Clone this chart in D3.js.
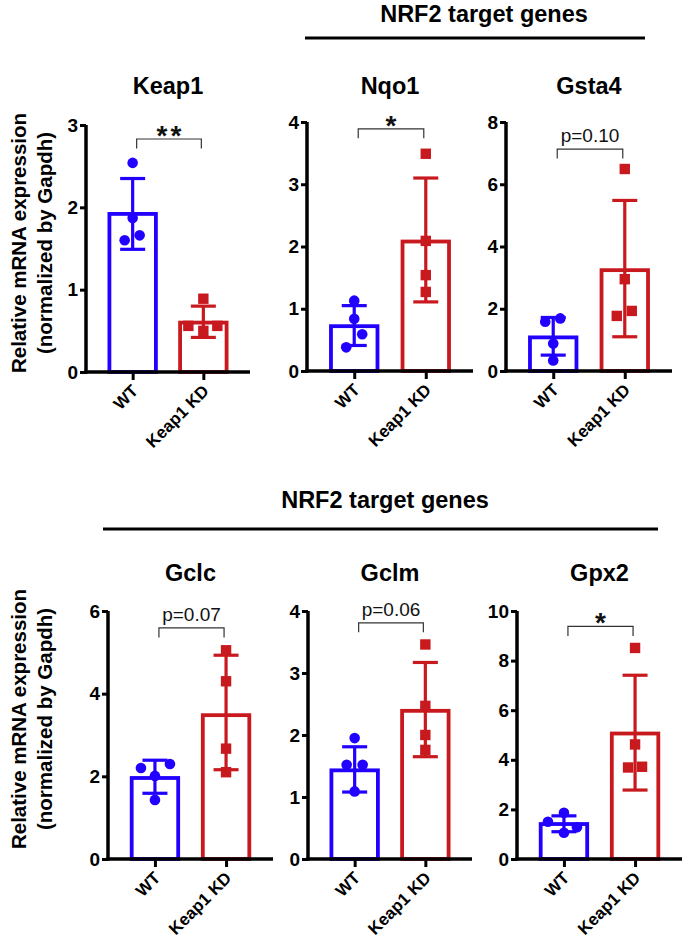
<!DOCTYPE html>
<html>
<head>
<meta charset="utf-8">
<script src="https://cdn.jsdelivr.net/npm/d3@7"></script>
<style>
  html, body { margin: 0; padding: 0; background: #fff; }
  svg { display: block; }
  text { font-family: "Liberation Sans", Arial, Helvetica, sans-serif; }
</style>
</head>
<body>
<svg id="chart" width="688" height="946"></svg>
<script>
// ---------------- DATA ----------------
const genes = ["Keap1", "Nqo1", "Gsta4", "Gclc", "Gclm", "Gpx2"];
const groups = ["WT", "Keap1 KD"];
const yMaxes = [3, 4, 8, 6, 4, 10];
const yTickSteps = [1, 1, 2, 2, 1, 2];

const wtMeans  = [1.92, 0.72, 1.08, 1.96, 1.43, 1.41];
const wtErrHi  = [2.35, 1.05, 1.72, 2.39, 1.81, 1.74];
const wtErrLo  = [1.49, 0.41, 0.51, 1.59, 1.08, 1.10];
const wtPoints = [
  [2.54, 1.87, 1.66, 1.60],
  [1.13, 0.84, 0.59, 0.38],
  [1.58, 1.69, 0.88, 0.34],
  [2.20, 2.30, 2.01, 1.43],
  [1.95, 1.52, 1.52, 1.09],
  [1.50, 1.86, 1.06, 1.28]
];

const kdMeans  = [0.60, 2.08, 3.24, 3.48, 2.39, 5.06];
const kdErrHi  = [0.80, 3.10, 5.48, 4.93, 3.17, 7.41];
const kdErrLo  = [0.42, 1.11, 1.10, 2.16, 1.65, 2.78];
const kdPoints = [
  [0.89, 0.56, 0.50, 0.56],
  [3.49, 2.09, 1.54, 1.27],
  [6.49, 2.95, 1.77, 1.93],
  [5.05, 4.30, 2.67, 2.10],
  [3.46, 2.47, 2.00, 1.76],
  [8.51, 4.62, 3.69, 3.72]
];

const sigLabels = ["**", "*", "p=0.10", "p=0.07", "p=0.06", "*"];
const bracketLevels = [2.83, 3.89, 7.13, 5.59, 3.81, 9.38];

const headerText = "NRF2 target genes";
const yLabelLines = ["Relative mRNA expression", "(normalized by Gapdh)"];

// ---------------- LAYOUT (pixels, styling) ----------------
const layout = [
  { ax: 86,  ae: 250, y0: 372, y1: 125, row: 0 },
  { ax: 307, ae: 473, y0: 371, y1: 122, row: 0 },
  { ax: 506, ae: 672, y0: 371, y1: 122, row: 0 },
  { ax: 108, ae: 273, y0: 859, y1: 611, row: 1 },
  { ax: 308, ae: 472, y0: 859, y1: 611, row: 1 },
  { ax: 517, ae: 682, y0: 859, y1: 611, row: 1 }
];
// horizontal jitter of the dots (px) — purely visual placement
const wtJitter = [[0,0,7,-8],[0,0,8,-8],[-8,7,0,0],[-14,15,0,0],[0,-8,8,0],[-16,0,0,13]];
const kdJitter = [[0,-15,0,14],[0,0,0,0],[0,0,-8,7],[0,0,0,0],[0,0,0,0],[0,0,-7,7]];

const BLUE = "#2200ff";
const RED = "#c8191e";
const colors = [BLUE, RED];
const FONT = "Liberation Sans, Arial, Helvetica, sans-serif";

const svg = d3.select("#chart");

// ---------------- HEADERS ----------------
const headers = [
  { cx: 484, ty: 22, x1: 305, x2: 645, ly: 38 },
  { cx: 385, ty: 508, x1: 103, x2: 658, ly: 529 }
];
headers.forEach(h => {
  svg.append("text").attr("x", h.cx).attr("y", h.ty)
    .attr("text-anchor", "middle").attr("font-weight", "bold")
    .attr("font-size", 23.5).attr("fill", "#000").text(headerText);
  svg.append("line").attr("x1", h.x1).attr("x2", h.x2)
    .attr("y1", h.ly).attr("y2", h.ly)
    .attr("stroke", "#000").attr("stroke-width", 3.2);
});

// ---------------- Y LABELS ----------------
[243, 719].forEach(cy => {
  yLabelLines.forEach((line, i) => {
    svg.append("text")
      .attr("transform", `translate(${25.5 + i * 26},${cy}) rotate(-90)`)
      .attr("text-anchor", "middle").attr("font-weight", "bold")
      .attr("font-size", 20.5).attr("fill", "#000").text(line);
  });
});

// ---------------- PANELS ----------------
genes.forEach((gene, p) => {
  const L = layout[p];
  const g = svg.append("g");
  const x = d3.scalePoint().domain(groups).range([L.ax, L.ae]).padding(0.66);
  const y = d3.scaleLinear().domain([0, yMaxes[p]]).range([L.y0, L.y1]);

  const means = [wtMeans[p], kdMeans[p]];
  const hi = [wtErrHi[p], kdErrHi[p]];
  const lo = [wtErrLo[p], kdErrLo[p]];
  const pts = [wtPoints[p], kdPoints[p]];
  const jit = [wtJitter[p], kdJitter[p]];

  const barW = 46.5;

  // bars
  groups.forEach((grp, k) => {
    g.append("rect")
      .attr("x", x(grp) - barW / 2)
      .attr("y", y(means[k]))
      .attr("width", barW)
      .attr("height", y(0) - y(means[k]))
      .attr("fill", "#fff")
      .attr("stroke", colors[k])
      .attr("stroke-width", 3.8);
  });

  // error bars
  groups.forEach((grp, k) => {
    const cx = x(grp);
    const col = colors[k];
    g.append("line").attr("x1", cx).attr("x2", cx)
      .attr("y1", y(hi[k])).attr("y2", y(lo[k]))
      .attr("stroke", col).attr("stroke-width", 3.2);
    [hi[k], lo[k]].forEach(v => {
      g.append("line").attr("x1", cx - 12.5).attr("x2", cx + 12.5)
        .attr("y1", y(v)).attr("y2", y(v))
        .attr("stroke", col).attr("stroke-width", 3.2);
    });
  });

  // points
  pts[0].forEach((v, i) => {
    g.append("circle").attr("cx", x(groups[0]) + jit[0][i]).attr("cy", y(v))
      .attr("r", 5.3).attr("fill", BLUE);
  });
  pts[1].forEach((v, i) => {
    g.append("rect").attr("x", x(groups[1]) + jit[1][i] - 5.2).attr("y", y(v) - 5.2)
      .attr("width", 10.4).attr("height", 10.4).attr("fill", RED);
  });

  // axes
  const ticks = d3.range(0, yMaxes[p] + 1e-9, yTickSteps[p]);
  const yAxis = d3.axisLeft(y).tickValues(ticks).tickSize(6).tickSizeOuter(0).tickPadding(2)
    .tickFormat(d3.format("d"));
  const ya = g.append("g").attr("transform", `translate(${L.ax},0)`).call(yAxis);
  ya.attr("font-family", FONT).attr("font-size", 19);
  ya.select(".domain").attr("stroke", "#000").attr("stroke-width", 3.5)
    .attr("d", `M0,${L.y0 + 1.7}V${L.y1}`);
  ya.selectAll(".tick line").attr("stroke", "#000").attr("stroke-width", 3);
  ya.selectAll(".tick text").attr("font-size", 19).attr("font-weight", "bold")
    .attr("fill", "#000").attr("font-family", FONT);

  const xAxis = d3.axisBottom(x).tickSize(8).tickSizeOuter(0);
  const xa = g.append("g").attr("transform", `translate(0,${L.y0})`).call(xAxis);
  xa.attr("font-family", FONT).attr("font-size", 17);
  xa.select(".domain").attr("stroke", "#000").attr("stroke-width", 3.5)
    .attr("d", `M${L.ax - 1.7},0H${L.ae}`);
  xa.selectAll(".tick line").attr("stroke", "#000").attr("stroke-width", 3);
  xa.selectAll(".tick text")
    .attr("x", 0).attr("y", 0).attr("dy", 0)
    .attr("transform", "translate(6,20) rotate(-45)")
    .attr("text-anchor", "end")
    .attr("font-size", 17).attr("font-weight", "bold").attr("fill", "#000")
    .attr("font-family", FONT);

  // title
  const midX = (x(groups[0]) + x(groups[1])) / 2;
  g.append("text").attr("x", midX).attr("y", L.row === 0 ? 94 : 581)
    .attr("text-anchor", "middle").attr("font-weight", "bold")
    .attr("font-size", 23.5).attr("fill", "#000").text(gene);

  // significance bracket
  const bx1 = x(groups[0]) + 4, bx2 = x(groups[1]) - 2;
  const by = y(bracketLevels[p]);
  g.append("path")
    .attr("d", `M${bx1},${by + 9.5}V${by}H${bx2}V${by + 9.5}`)
    .attr("fill", "none").attr("stroke", "#333").attr("stroke-width", 1.2);
  const lab = sigLabels[p];
  const isStar = lab.startsWith("*");
  g.append("text")
    .attr("x", (bx1 + bx2) / 2 + (isStar ? 1.5 : 0))
    .attr("y", isStar ? by + 6 : by - 7)
    .attr("text-anchor", "middle")
    .attr("font-size", isStar ? 28 : 19)
    .attr("font-weight", isStar ? "bold" : "normal")
    .attr("letter-spacing", isStar ? 3 : 0)
    .attr("fill", "#111")
    .text(lab);
});
</script>
</body>
</html>
